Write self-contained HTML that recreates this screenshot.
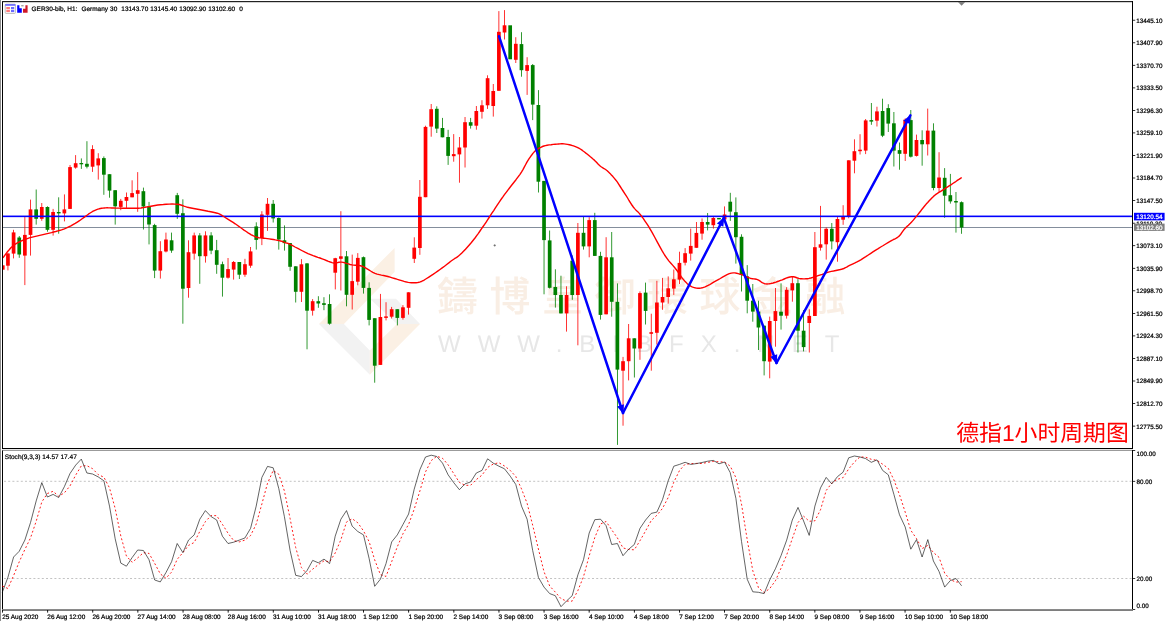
<!DOCTYPE html>
<html lang="en"><head><meta charset="utf-8"><title>GER30-bib H1</title>
<style>
html,body{margin:0;padding:0;background:#fff;}
body{width:1170px;height:621px;overflow:hidden;position:relative;font-family:"Liberation Sans","Noto Sans CJK SC",sans-serif;}
svg{position:absolute;left:0;top:0;display:block;will-change:transform;}
text{text-rendering:geometricPrecision;}
.ax,.tx,.hd{stroke:#000;stroke-width:0.22px;}
.ax{font-family:"Liberation Sans",sans-serif;font-size:6.3px;fill:#000;}
.tx{font-family:"Liberation Sans",sans-serif;font-size:6.45px;fill:#000;}
.hd{font-family:"Liberation Sans",sans-serif;font-size:6.55px;fill:#000;}
.wm1{font-family:"Liberation Sans","Noto Sans CJK TC",sans-serif;font-weight:500;font-size:41px;fill:#f9eee4;letter-spacing:11.5px;}
.wm2{font-family:"Liberation Sans",sans-serif;font-size:24px;fill:#e7e7e7;letter-spacing:17px;}
.ttl{font-family:"Liberation Sans","Noto Sans CJK SC",sans-serif;font-size:22.85px;fill:#ff0000;}
</style></head><body>
<svg width="1170" height="621" viewBox="0 0 1170 621">

<rect x="0" y="0" width="1" height="621" fill="#8c8c8c"/>
<g id="logo">
<polygon points="394.6,247.9 394.6,272 343.9,324 319,324" fill="#fbf0e4"/>
<polygon points="319,324 343.9,324 369.8,350.6 369.8,374.8" fill="#f2f2f2"/>
<polygon points="369.8,374.8 369.8,350.6 397,324 420,324" fill="#fbf0e4"/>
<polygon points="369.8,298.7 396,298.7 420,324 397,324" fill="#f2f2f2"/>
</g>
<text class="wm1" x="437" y="311.1">鑄博皇御環球金融</text>
<text class="wm2" x="438" y="352">WWW.BIBFX.NET</text>
<rect x="3" y="227" width="1129" height="1" fill="#848e9c"/>
<g id="candles">
<rect x="3" y="265.3" width="1.6" height="4.4" fill="#ff0000"/>
<rect x="7.54" y="252.7" width="0.8" height="17.7" fill="#ff0000"/>
<rect x="6.09" y="253.5" width="3.7" height="12.2" fill="#ff0000"/>
<rect x="13.19" y="229.8" width="0.8" height="28.6" fill="#ff0000"/>
<rect x="11.74" y="232.4" width="3.7" height="21.2" fill="#ff0000"/>
<rect x="18.83" y="236.0" width="0.8" height="21.8" fill="#008000"/>
<rect x="17.38" y="237.5" width="3.7" height="17.0" fill="#008000"/>
<rect x="24.47" y="216.6" width="0.8" height="68.5" fill="#ff0000"/>
<rect x="23.02" y="234.9" width="3.7" height="20.7" fill="#ff0000"/>
<rect x="30.12" y="199.6" width="0.8" height="56.0" fill="#ff0000"/>
<rect x="28.66" y="209.4" width="3.7" height="25.5" fill="#ff0000"/>
<rect x="35.76" y="189.5" width="0.8" height="35.1" fill="#008000"/>
<rect x="34.31" y="209.4" width="3.7" height="9.4" fill="#008000"/>
<rect x="41.40" y="203.0" width="0.8" height="17.8" fill="#ff0000"/>
<rect x="39.95" y="207.0" width="3.7" height="11.8" fill="#ff0000"/>
<rect x="47.04" y="206.3" width="0.8" height="25.4" fill="#008000"/>
<rect x="45.59" y="207.0" width="3.7" height="22.8" fill="#008000"/>
<rect x="52.69" y="208.9" width="0.8" height="26.7" fill="#ff0000"/>
<rect x="51.24" y="212.0" width="3.7" height="17.8" fill="#ff0000"/>
<rect x="58.33" y="197.3" width="0.8" height="36.4" fill="#008000"/>
<rect x="56.88" y="212.0" width="3.7" height="1.4" fill="#008000"/>
<rect x="63.97" y="194.4" width="0.8" height="27.0" fill="#ff0000"/>
<rect x="62.52" y="209.4" width="3.7" height="4.0" fill="#ff0000"/>
<rect x="69.62" y="165.0" width="0.8" height="43.9" fill="#ff0000"/>
<rect x="68.17" y="167.1" width="3.7" height="41.8" fill="#ff0000"/>
<rect x="75.26" y="155.1" width="0.8" height="13.6" fill="#ff0000"/>
<rect x="73.81" y="163.2" width="3.7" height="4.4" fill="#ff0000"/>
<rect x="80.90" y="158.4" width="0.8" height="10.5" fill="#008000"/>
<rect x="79.45" y="163.0" width="3.7" height="1.3" fill="#008000"/>
<rect x="86.54" y="141.2" width="0.8" height="27.2" fill="#008000"/>
<rect x="85.09" y="163.8" width="3.7" height="2.9" fill="#008000"/>
<rect x="92.19" y="145.2" width="0.8" height="26.7" fill="#ff0000"/>
<rect x="90.74" y="149.1" width="3.7" height="17.6" fill="#ff0000"/>
<rect x="97.83" y="153.2" width="0.8" height="26.4" fill="#ff0000"/>
<rect x="96.38" y="158.4" width="3.7" height="7.0" fill="#ff0000"/>
<rect x="103.47" y="156.4" width="0.8" height="38.4" fill="#008000"/>
<rect x="102.02" y="158.1" width="3.7" height="16.6" fill="#008000"/>
<rect x="109.12" y="174.2" width="0.8" height="23.5" fill="#008000"/>
<rect x="107.67" y="174.2" width="3.7" height="16.4" fill="#008000"/>
<rect x="114.76" y="190.2" width="0.8" height="34.4" fill="#008000"/>
<rect x="113.31" y="190.2" width="3.7" height="16.1" fill="#008000"/>
<rect x="120.40" y="198.9" width="0.8" height="11.3" fill="#ff0000"/>
<rect x="118.95" y="200.8" width="3.7" height="6.1" fill="#ff0000"/>
<rect x="126.05" y="192.5" width="0.8" height="15.4" fill="#ff0000"/>
<rect x="124.60" y="197.0" width="3.7" height="3.8" fill="#ff0000"/>
<rect x="131.69" y="180.3" width="0.8" height="17.0" fill="#ff0000"/>
<rect x="130.24" y="193.1" width="3.7" height="4.2" fill="#ff0000"/>
<rect x="137.33" y="172.1" width="0.8" height="39.7" fill="#ff0000"/>
<rect x="135.88" y="190.2" width="3.7" height="3.6" fill="#ff0000"/>
<rect x="142.97" y="187.6" width="0.8" height="41.9" fill="#008000"/>
<rect x="141.53" y="191.2" width="3.7" height="15.3" fill="#008000"/>
<rect x="148.62" y="201.9" width="0.8" height="42.5" fill="#008000"/>
<rect x="147.17" y="206.4" width="3.7" height="18.1" fill="#008000"/>
<rect x="154.26" y="223.8" width="0.8" height="54.3" fill="#008000"/>
<rect x="152.81" y="225.1" width="3.7" height="45.5" fill="#008000"/>
<rect x="159.90" y="241.2" width="0.8" height="37.4" fill="#ff0000"/>
<rect x="158.45" y="251.2" width="3.7" height="19.4" fill="#ff0000"/>
<rect x="165.55" y="232.6" width="0.8" height="19.8" fill="#ff0000"/>
<rect x="164.10" y="239.5" width="3.7" height="12.0" fill="#ff0000"/>
<rect x="171.19" y="232.6" width="0.8" height="20.2" fill="#008000"/>
<rect x="169.74" y="240.3" width="3.7" height="10.3" fill="#008000"/>
<rect x="176.83" y="192.9" width="0.8" height="26.0" fill="#008000"/>
<rect x="175.38" y="195.2" width="3.7" height="18.6" fill="#008000"/>
<rect x="182.48" y="199.3" width="0.8" height="124.4" fill="#008000"/>
<rect x="181.03" y="213.2" width="3.7" height="75.5" fill="#008000"/>
<rect x="188.12" y="240.3" width="0.8" height="57.4" fill="#ff0000"/>
<rect x="186.67" y="252.2" width="3.7" height="35.8" fill="#ff0000"/>
<rect x="193.76" y="232.6" width="0.8" height="27.1" fill="#ff0000"/>
<rect x="192.31" y="235.4" width="3.7" height="18.2" fill="#ff0000"/>
<rect x="199.41" y="233.1" width="0.8" height="50.7" fill="#008000"/>
<rect x="197.96" y="235.4" width="3.7" height="20.8" fill="#008000"/>
<rect x="205.05" y="231.3" width="0.8" height="31.3" fill="#ff0000"/>
<rect x="203.60" y="235.4" width="3.7" height="20.8" fill="#ff0000"/>
<rect x="210.69" y="232.2" width="0.8" height="22.0" fill="#008000"/>
<rect x="209.24" y="235.4" width="3.7" height="15.2" fill="#008000"/>
<rect x="216.33" y="239.9" width="0.8" height="33.9" fill="#008000"/>
<rect x="214.88" y="250.2" width="3.7" height="14.6" fill="#008000"/>
<rect x="221.98" y="261.6" width="0.8" height="35.0" fill="#008000"/>
<rect x="220.53" y="264.2" width="3.7" height="13.5" fill="#008000"/>
<rect x="227.62" y="258.0" width="0.8" height="20.6" fill="#ff0000"/>
<rect x="226.17" y="269.1" width="3.7" height="8.6" fill="#ff0000"/>
<rect x="233.26" y="261.0" width="0.8" height="18.6" fill="#ff0000"/>
<rect x="231.81" y="262.0" width="3.7" height="7.6" fill="#ff0000"/>
<rect x="238.91" y="262.0" width="0.8" height="17.0" fill="#008000"/>
<rect x="237.46" y="262.0" width="3.7" height="12.7" fill="#008000"/>
<rect x="244.55" y="258.8" width="0.8" height="18.0" fill="#ff0000"/>
<rect x="243.10" y="264.2" width="3.7" height="10.5" fill="#ff0000"/>
<rect x="250.19" y="247.0" width="0.8" height="20.8" fill="#ff0000"/>
<rect x="248.74" y="251.4" width="3.7" height="14.3" fill="#ff0000"/>
<rect x="255.84" y="222.3" width="0.8" height="27.3" fill="#008000"/>
<rect x="254.39" y="226.4" width="3.7" height="13.5" fill="#008000"/>
<rect x="261.48" y="211.2" width="0.8" height="33.9" fill="#ff0000"/>
<rect x="260.03" y="214.5" width="3.7" height="23.5" fill="#ff0000"/>
<rect x="267.12" y="198.0" width="0.8" height="32.9" fill="#ff0000"/>
<rect x="265.67" y="203.8" width="3.7" height="11.0" fill="#ff0000"/>
<rect x="272.76" y="200.0" width="0.8" height="22.5" fill="#008000"/>
<rect x="271.31" y="203.8" width="3.7" height="14.6" fill="#008000"/>
<rect x="278.41" y="217.4" width="0.8" height="32.2" fill="#008000"/>
<rect x="276.96" y="218.0" width="3.7" height="21.5" fill="#008000"/>
<rect x="284.05" y="225.4" width="0.8" height="25.2" fill="#008000"/>
<rect x="282.60" y="240.3" width="3.7" height="2.8" fill="#008000"/>
<rect x="289.69" y="243.1" width="0.8" height="27.7" fill="#008000"/>
<rect x="288.24" y="243.1" width="3.7" height="23.7" fill="#008000"/>
<rect x="295.34" y="266.3" width="0.8" height="36.2" fill="#008000"/>
<rect x="293.89" y="266.3" width="3.7" height="25.5" fill="#008000"/>
<rect x="300.98" y="259.1" width="0.8" height="42.9" fill="#ff0000"/>
<rect x="299.53" y="264.3" width="3.7" height="27.5" fill="#ff0000"/>
<rect x="306.62" y="263.0" width="0.8" height="86.3" fill="#008000"/>
<rect x="305.17" y="263.4" width="3.7" height="47.3" fill="#008000"/>
<rect x="312.27" y="299.1" width="0.8" height="16.5" fill="#ff0000"/>
<rect x="310.81" y="301.2" width="3.7" height="9.5" fill="#ff0000"/>
<rect x="317.91" y="296.2" width="0.8" height="11.6" fill="#008000"/>
<rect x="316.46" y="301.2" width="3.7" height="2.3" fill="#008000"/>
<rect x="323.55" y="297.2" width="0.8" height="13.0" fill="#008000"/>
<rect x="322.10" y="303.2" width="3.7" height="1.7" fill="#008000"/>
<rect x="329.19" y="294.3" width="0.8" height="30.4" fill="#008000"/>
<rect x="327.74" y="304.0" width="3.7" height="19.7" fill="#008000"/>
<rect x="334.84" y="257.8" width="0.8" height="31.6" fill="#ff0000"/>
<rect x="333.39" y="258.2" width="3.7" height="14.5" fill="#ff0000"/>
<rect x="340.48" y="211.2" width="0.8" height="79.3" fill="#ff0000"/>
<rect x="339.03" y="256.3" width="3.7" height="2.5" fill="#ff0000"/>
<rect x="346.12" y="251.0" width="0.8" height="55.3" fill="#008000"/>
<rect x="344.67" y="256.3" width="3.7" height="38.5" fill="#008000"/>
<rect x="351.77" y="254.6" width="0.8" height="54.9" fill="#ff0000"/>
<rect x="350.32" y="281.1" width="3.7" height="13.7" fill="#ff0000"/>
<rect x="357.41" y="253.1" width="0.8" height="32.2" fill="#ff0000"/>
<rect x="355.96" y="257.9" width="3.7" height="23.8" fill="#ff0000"/>
<rect x="363.05" y="256.5" width="0.8" height="37.1" fill="#008000"/>
<rect x="361.60" y="257.2" width="3.7" height="30.7" fill="#008000"/>
<rect x="368.69" y="282.3" width="0.8" height="43.1" fill="#008000"/>
<rect x="367.24" y="287.9" width="3.7" height="32.0" fill="#008000"/>
<rect x="374.34" y="318.2" width="0.8" height="64.5" fill="#008000"/>
<rect x="372.89" y="318.2" width="3.7" height="47.5" fill="#008000"/>
<rect x="379.98" y="293.9" width="0.8" height="71.0" fill="#ff0000"/>
<rect x="378.53" y="317.0" width="3.7" height="47.9" fill="#ff0000"/>
<rect x="385.62" y="302.2" width="0.8" height="18.2" fill="#ff0000"/>
<rect x="384.17" y="316.4" width="3.7" height="1.5" fill="#ff0000"/>
<rect x="391.27" y="306.9" width="0.8" height="11.6" fill="#ff0000"/>
<rect x="389.82" y="309.2" width="3.7" height="7.5" fill="#ff0000"/>
<rect x="396.91" y="309.2" width="0.8" height="16.2" fill="#008000"/>
<rect x="395.46" y="309.2" width="3.7" height="8.7" fill="#008000"/>
<rect x="402.55" y="305.1" width="0.8" height="14.5" fill="#ff0000"/>
<rect x="401.10" y="307.3" width="3.7" height="10.6" fill="#ff0000"/>
<rect x="408.20" y="292.3" width="0.8" height="22.3" fill="#ff0000"/>
<rect x="406.75" y="292.3" width="3.7" height="15.5" fill="#ff0000"/>
<rect x="413.84" y="237.3" width="0.8" height="25.7" fill="#ff0000"/>
<rect x="412.39" y="247.6" width="3.7" height="11.2" fill="#ff0000"/>
<rect x="419.48" y="180.0" width="0.8" height="74.8" fill="#ff0000"/>
<rect x="418.03" y="196.8" width="3.7" height="51.2" fill="#ff0000"/>
<rect x="425.12" y="125.7" width="0.8" height="71.5" fill="#ff0000"/>
<rect x="423.67" y="126.9" width="3.7" height="70.3" fill="#ff0000"/>
<rect x="430.77" y="104.0" width="0.8" height="32.7" fill="#ff0000"/>
<rect x="429.32" y="109.2" width="3.7" height="17.4" fill="#ff0000"/>
<rect x="436.41" y="106.3" width="0.8" height="26.7" fill="#008000"/>
<rect x="434.96" y="108.8" width="3.7" height="19.8" fill="#008000"/>
<rect x="442.05" y="117.9" width="0.8" height="19.4" fill="#008000"/>
<rect x="440.60" y="128.0" width="3.7" height="9.3" fill="#008000"/>
<rect x="447.70" y="129.8" width="0.8" height="35.1" fill="#008000"/>
<rect x="446.25" y="137.0" width="3.7" height="18.9" fill="#008000"/>
<rect x="453.34" y="134.1" width="0.8" height="27.6" fill="#ff0000"/>
<rect x="451.89" y="154.1" width="3.7" height="2.1" fill="#ff0000"/>
<rect x="458.98" y="137.0" width="0.8" height="45.7" fill="#ff0000"/>
<rect x="457.53" y="147.5" width="3.7" height="6.9" fill="#ff0000"/>
<rect x="464.63" y="117.0" width="0.8" height="50.5" fill="#ff0000"/>
<rect x="463.18" y="122.2" width="3.7" height="25.3" fill="#ff0000"/>
<rect x="470.27" y="117.9" width="0.8" height="10.7" fill="#008000"/>
<rect x="468.82" y="122.2" width="3.7" height="3.5" fill="#008000"/>
<rect x="475.91" y="106.0" width="0.8" height="23.7" fill="#ff0000"/>
<rect x="474.46" y="111.0" width="3.7" height="14.7" fill="#ff0000"/>
<rect x="481.56" y="100.2" width="0.8" height="18.4" fill="#ff0000"/>
<rect x="480.10" y="105.3" width="3.7" height="6.5" fill="#ff0000"/>
<rect x="487.20" y="75.3" width="0.8" height="33.6" fill="#ff0000"/>
<rect x="485.75" y="78.2" width="3.7" height="27.1" fill="#ff0000"/>
<rect x="492.84" y="84.0" width="0.8" height="32.6" fill="#ff0000"/>
<rect x="491.39" y="91.0" width="3.7" height="15.0" fill="#ff0000"/>
<rect x="498.48" y="11.1" width="0.8" height="79.7" fill="#ff0000"/>
<rect x="497.03" y="31.8" width="3.7" height="59.0" fill="#ff0000"/>
<rect x="504.13" y="10.1" width="0.8" height="29.4" fill="#ff0000"/>
<rect x="502.68" y="25.3" width="3.7" height="7.2" fill="#ff0000"/>
<rect x="508.32" y="25.3" width="3.7" height="34.0" fill="#008000"/>
<rect x="515.41" y="37.2" width="0.8" height="25.8" fill="#ff0000"/>
<rect x="513.96" y="43.8" width="3.7" height="16.0" fill="#ff0000"/>
<rect x="521.06" y="32.2" width="0.8" height="44.5" fill="#008000"/>
<rect x="519.61" y="44.1" width="3.7" height="26.1" fill="#008000"/>
<rect x="526.70" y="57.2" width="0.8" height="37.7" fill="#ff0000"/>
<rect x="525.25" y="65.1" width="3.7" height="5.8" fill="#ff0000"/>
<rect x="532.34" y="64.0" width="0.8" height="56.1" fill="#008000"/>
<rect x="530.89" y="65.1" width="3.7" height="39.5" fill="#008000"/>
<rect x="537.99" y="90.1" width="0.8" height="102.4" fill="#008000"/>
<rect x="536.53" y="105.0" width="3.7" height="76.7" fill="#008000"/>
<rect x="543.63" y="180.9" width="0.8" height="113.4" fill="#008000"/>
<rect x="542.18" y="180.9" width="3.7" height="59.2" fill="#008000"/>
<rect x="549.27" y="230.5" width="0.8" height="58.0" fill="#008000"/>
<rect x="547.82" y="240.4" width="3.7" height="47.4" fill="#008000"/>
<rect x="554.91" y="269.3" width="0.8" height="38.3" fill="#008000"/>
<rect x="553.46" y="287.0" width="3.7" height="8.0" fill="#008000"/>
<rect x="560.56" y="275.7" width="0.8" height="37.7" fill="#008000"/>
<rect x="559.11" y="295.0" width="3.7" height="18.4" fill="#008000"/>
<rect x="566.20" y="286.3" width="0.8" height="45.3" fill="#ff0000"/>
<rect x="564.75" y="295.0" width="3.7" height="18.4" fill="#ff0000"/>
<rect x="571.84" y="255.4" width="0.8" height="44.4" fill="#008000"/>
<rect x="570.39" y="260.7" width="3.7" height="34.3" fill="#008000"/>
<rect x="577.49" y="223.0" width="0.8" height="122.3" fill="#ff0000"/>
<rect x="576.04" y="232.8" width="3.7" height="62.2" fill="#ff0000"/>
<rect x="583.13" y="216.9" width="0.8" height="32.7" fill="#008000"/>
<rect x="581.68" y="232.8" width="3.7" height="13.6" fill="#008000"/>
<rect x="588.77" y="217.2" width="0.8" height="40.1" fill="#ff0000"/>
<rect x="587.32" y="220.1" width="3.7" height="26.3" fill="#ff0000"/>
<rect x="594.41" y="212.8" width="0.8" height="43.1" fill="#008000"/>
<rect x="592.96" y="220.1" width="3.7" height="35.8" fill="#008000"/>
<rect x="600.06" y="251.8" width="0.8" height="67.8" fill="#008000"/>
<rect x="598.61" y="255.9" width="3.7" height="59.0" fill="#008000"/>
<rect x="605.70" y="237.2" width="0.8" height="77.1" fill="#ff0000"/>
<rect x="604.25" y="257.3" width="3.7" height="57.0" fill="#ff0000"/>
<rect x="611.34" y="232.0" width="0.8" height="84.7" fill="#008000"/>
<rect x="609.89" y="257.3" width="3.7" height="44.5" fill="#008000"/>
<rect x="616.99" y="283.4" width="0.8" height="161.5" fill="#008000"/>
<rect x="615.54" y="301.8" width="3.7" height="67.8" fill="#008000"/>
<rect x="622.63" y="356.9" width="0.8" height="68.8" fill="#ff0000"/>
<rect x="621.18" y="361.2" width="3.7" height="9.5" fill="#ff0000"/>
<rect x="628.27" y="324.0" width="0.8" height="56.4" fill="#ff0000"/>
<rect x="626.82" y="338.3" width="3.7" height="22.9" fill="#ff0000"/>
<rect x="633.92" y="338.3" width="0.8" height="39.2" fill="#008000"/>
<rect x="632.47" y="338.3" width="3.7" height="10.2" fill="#008000"/>
<rect x="639.56" y="291.4" width="0.8" height="68.4" fill="#ff0000"/>
<rect x="638.11" y="293.1" width="3.7" height="55.4" fill="#ff0000"/>
<rect x="645.20" y="282.6" width="0.8" height="41.9" fill="#008000"/>
<rect x="643.75" y="292.6" width="3.7" height="18.3" fill="#008000"/>
<rect x="650.84" y="313.7" width="0.8" height="57.0" fill="#ff0000"/>
<rect x="649.39" y="332.2" width="3.7" height="1.6" fill="#ff0000"/>
<rect x="656.49" y="280.8" width="0.8" height="63.8" fill="#ff0000"/>
<rect x="655.04" y="302.5" width="3.7" height="30.3" fill="#ff0000"/>
<rect x="662.13" y="277.9" width="0.8" height="31.9" fill="#ff0000"/>
<rect x="660.68" y="297.0" width="3.7" height="5.5" fill="#ff0000"/>
<rect x="667.77" y="276.4" width="0.8" height="27.2" fill="#ff0000"/>
<rect x="666.32" y="288.3" width="3.7" height="8.7" fill="#ff0000"/>
<rect x="673.42" y="269.5" width="0.8" height="25.4" fill="#ff0000"/>
<rect x="671.97" y="279.3" width="3.7" height="9.3" fill="#ff0000"/>
<rect x="679.06" y="251.7" width="0.8" height="32.3" fill="#ff0000"/>
<rect x="677.61" y="262.9" width="3.7" height="16.7" fill="#ff0000"/>
<rect x="684.70" y="248.1" width="0.8" height="17.3" fill="#ff0000"/>
<rect x="683.25" y="253.2" width="3.7" height="9.5" fill="#ff0000"/>
<rect x="690.35" y="228.6" width="0.8" height="32.0" fill="#ff0000"/>
<rect x="688.90" y="245.9" width="3.7" height="7.7" fill="#ff0000"/>
<rect x="695.99" y="222.0" width="0.8" height="25.8" fill="#ff0000"/>
<rect x="694.54" y="232.9" width="3.7" height="14.9" fill="#ff0000"/>
<rect x="701.63" y="218.4" width="0.8" height="21.3" fill="#ff0000"/>
<rect x="700.18" y="222.0" width="3.7" height="11.6" fill="#ff0000"/>
<rect x="707.27" y="213.0" width="0.8" height="17.4" fill="#008000"/>
<rect x="705.82" y="222.0" width="3.7" height="2.6" fill="#008000"/>
<rect x="712.92" y="217.0" width="0.8" height="11.6" fill="#ff0000"/>
<rect x="711.47" y="218.0" width="3.7" height="7.2" fill="#ff0000"/>
<rect x="717.11" y="218.0" width="3.7" height="1.4" fill="#008000"/>
<rect x="724.20" y="206.4" width="0.8" height="13.0" fill="#ff0000"/>
<rect x="722.75" y="214.5" width="3.7" height="4.9" fill="#ff0000"/>
<rect x="729.85" y="192.8" width="0.8" height="28.1" fill="#008000"/>
<rect x="728.40" y="201.7" width="3.7" height="9.9" fill="#008000"/>
<rect x="735.49" y="197.4" width="0.8" height="66.2" fill="#008000"/>
<rect x="734.04" y="212.2" width="3.7" height="25.0" fill="#008000"/>
<rect x="741.13" y="234.3" width="0.8" height="57.2" fill="#008000"/>
<rect x="739.68" y="236.8" width="3.7" height="38.2" fill="#008000"/>
<rect x="746.78" y="265.1" width="0.8" height="48.2" fill="#008000"/>
<rect x="745.33" y="276.4" width="3.7" height="24.3" fill="#008000"/>
<rect x="752.42" y="284.0" width="0.8" height="37.7" fill="#008000"/>
<rect x="750.97" y="300.7" width="3.7" height="10.9" fill="#008000"/>
<rect x="758.06" y="300.7" width="0.8" height="49.3" fill="#008000"/>
<rect x="756.61" y="311.5" width="3.7" height="16.0" fill="#008000"/>
<rect x="763.70" y="325.7" width="0.8" height="49.7" fill="#008000"/>
<rect x="762.25" y="325.7" width="3.7" height="35.5" fill="#008000"/>
<rect x="769.35" y="316.6" width="0.8" height="61.7" fill="#ff0000"/>
<rect x="767.90" y="321.0" width="3.7" height="40.6" fill="#ff0000"/>
<rect x="774.99" y="288.0" width="0.8" height="58.7" fill="#ff0000"/>
<rect x="773.54" y="311.1" width="3.7" height="9.9" fill="#ff0000"/>
<rect x="780.63" y="283.3" width="0.8" height="46.3" fill="#008000"/>
<rect x="779.18" y="311.7" width="3.7" height="4.0" fill="#008000"/>
<rect x="786.28" y="287.2" width="0.8" height="31.4" fill="#ff0000"/>
<rect x="784.83" y="289.8" width="3.7" height="25.9" fill="#ff0000"/>
<rect x="791.92" y="276.8" width="0.8" height="24.9" fill="#ff0000"/>
<rect x="790.47" y="283.2" width="3.7" height="7.2" fill="#ff0000"/>
<rect x="797.56" y="279.1" width="0.8" height="73.4" fill="#008000"/>
<rect x="796.11" y="283.2" width="3.7" height="47.5" fill="#008000"/>
<rect x="803.21" y="310.1" width="0.8" height="41.3" fill="#008000"/>
<rect x="801.76" y="330.7" width="3.7" height="16.4" fill="#008000"/>
<rect x="808.85" y="309.3" width="0.8" height="43.2" fill="#ff0000"/>
<rect x="807.40" y="315.9" width="3.7" height="7.1" fill="#ff0000"/>
<rect x="814.49" y="232.0" width="0.8" height="84.0" fill="#ff0000"/>
<rect x="813.04" y="247.2" width="3.7" height="68.8" fill="#ff0000"/>
<rect x="820.13" y="205.9" width="0.8" height="44.7" fill="#ff0000"/>
<rect x="818.68" y="244.3" width="3.7" height="3.4" fill="#ff0000"/>
<rect x="825.78" y="227.4" width="0.8" height="32.2" fill="#ff0000"/>
<rect x="824.33" y="228.8" width="3.7" height="15.5" fill="#ff0000"/>
<rect x="831.42" y="223.0" width="0.8" height="26.4" fill="#008000"/>
<rect x="829.97" y="228.8" width="3.7" height="12.6" fill="#008000"/>
<rect x="837.06" y="216.8" width="0.8" height="44.9" fill="#ff0000"/>
<rect x="835.61" y="219.0" width="3.7" height="23.2" fill="#ff0000"/>
<rect x="842.71" y="205.2" width="0.8" height="19.6" fill="#ff0000"/>
<rect x="841.26" y="216.8" width="3.7" height="2.9" fill="#ff0000"/>
<rect x="848.35" y="160.3" width="0.8" height="58.0" fill="#ff0000"/>
<rect x="846.90" y="160.3" width="3.7" height="55.8" fill="#ff0000"/>
<rect x="853.99" y="139.3" width="0.8" height="34.0" fill="#ff0000"/>
<rect x="852.54" y="151.2" width="3.7" height="9.5" fill="#ff0000"/>
<rect x="859.64" y="134.2" width="0.8" height="20.3" fill="#ff0000"/>
<rect x="858.19" y="149.7" width="3.7" height="1.5" fill="#ff0000"/>
<rect x="865.28" y="119.0" width="0.8" height="35.1" fill="#ff0000"/>
<rect x="863.83" y="120.4" width="3.7" height="30.2" fill="#ff0000"/>
<rect x="870.92" y="103.0" width="0.8" height="21.8" fill="#008000"/>
<rect x="869.47" y="120.1" width="3.7" height="1.5" fill="#008000"/>
<rect x="876.56" y="106.7" width="0.8" height="19.8" fill="#ff0000"/>
<rect x="875.11" y="111.4" width="3.7" height="9.3" fill="#ff0000"/>
<rect x="882.21" y="98.7" width="0.8" height="38.4" fill="#008000"/>
<rect x="880.76" y="111.0" width="3.7" height="24.7" fill="#008000"/>
<rect x="887.85" y="104.2" width="0.8" height="27.8" fill="#008000"/>
<rect x="886.40" y="108.1" width="3.7" height="15.5" fill="#008000"/>
<rect x="893.49" y="112.0" width="0.8" height="54.5" fill="#008000"/>
<rect x="892.04" y="123.3" width="3.7" height="27.3" fill="#008000"/>
<rect x="899.14" y="142.5" width="0.8" height="27.2" fill="#008000"/>
<rect x="897.69" y="150.1" width="3.7" height="3.7" fill="#008000"/>
<rect x="904.78" y="118.3" width="0.8" height="42.7" fill="#ff0000"/>
<rect x="903.33" y="119.7" width="3.7" height="34.1" fill="#ff0000"/>
<rect x="910.42" y="110.0" width="0.8" height="47.5" fill="#008000"/>
<rect x="908.97" y="120.1" width="3.7" height="36.6" fill="#008000"/>
<rect x="916.07" y="134.6" width="0.8" height="21.9" fill="#ff0000"/>
<rect x="914.62" y="140.0" width="3.7" height="15.9" fill="#ff0000"/>
<rect x="921.71" y="130.3" width="0.8" height="35.4" fill="#008000"/>
<rect x="920.26" y="140.0" width="3.7" height="4.3" fill="#008000"/>
<rect x="927.35" y="108.6" width="0.8" height="46.9" fill="#ff0000"/>
<rect x="925.90" y="130.6" width="3.7" height="13.7" fill="#ff0000"/>
<rect x="932.99" y="123.3" width="0.8" height="67.0" fill="#008000"/>
<rect x="931.54" y="130.6" width="3.7" height="57.4" fill="#008000"/>
<rect x="938.64" y="152.2" width="0.8" height="39.8" fill="#ff0000"/>
<rect x="937.19" y="177.5" width="3.7" height="10.5" fill="#ff0000"/>
<rect x="944.28" y="168.1" width="0.8" height="49.7" fill="#008000"/>
<rect x="942.83" y="177.8" width="3.7" height="17.9" fill="#008000"/>
<rect x="949.92" y="173.9" width="0.8" height="29.7" fill="#008000"/>
<rect x="948.47" y="195.2" width="3.7" height="6.2" fill="#008000"/>
<rect x="955.57" y="192.0" width="0.8" height="40.6" fill="#008000"/>
<rect x="954.12" y="201.0" width="3.7" height="1.5" fill="#008000"/>
<rect x="961.21" y="201.4" width="0.8" height="32.4" fill="#008000"/>
<rect x="959.76" y="202.2" width="3.7" height="25.3" fill="#008000"/>
</g>
<rect x="3" y="215.55" width="1129" height="1.6" fill="#0000ff"/>
<polyline points="2.8,257.9 3.9,256.5 5.3,254.6 7.0,252.3 9.0,250.0 10.9,247.7 12.9,245.9 14.9,244.4 17.0,243.1 19.2,242.0 21.4,240.9 23.6,240.0 25.8,239.1 28.0,238.3 30.1,237.7 32.3,237.1 34.4,236.6 36.6,236.1 38.7,235.6 40.8,235.1 43.0,234.6 45.1,234.1 47.2,233.6 49.4,233.1 51.5,232.6 53.6,232.0 55.8,231.5 57.9,230.9 60.1,230.3 62.2,229.6 64.4,228.8 66.6,227.9 68.7,226.9 70.9,225.8 73.0,224.6 75.2,223.4 77.3,222.1 79.5,220.7 81.8,219.0 84.1,217.4 86.3,215.7 88.4,214.2 90.2,213.0 91.8,212.0 93.1,211.2 94.4,210.6 95.5,210.1 96.7,209.6 97.9,209.2 99.2,208.8 100.4,208.5 101.6,208.3 102.9,208.1 104.3,208.0 105.7,207.9 107.2,207.8 108.6,207.9 110.0,207.9 111.7,208.0 113.7,208.0 116.0,208.1 119.0,208.1 122.6,208.2 126.4,208.3 130.3,208.3 133.8,208.3 136.6,208.3 138.6,208.2 140.0,208.1 141.1,208.0 142.1,207.8 143.3,207.6 145.0,207.3 147.2,206.9 149.6,206.5 152.2,206.0 155.0,205.5 157.8,205.0 160.5,204.7 163.3,204.5 166.2,204.2 169.2,204.1 172.1,204.0 174.8,204.1 177.2,204.2 179.2,204.5 180.9,205.0 182.4,205.5 183.9,206.1 185.6,206.7 187.5,207.3 189.8,207.8 192.3,208.3 195.0,208.8 197.7,209.3 200.4,209.8 203.0,210.3 205.5,210.8 208.1,211.3 210.7,211.7 213.1,212.2 215.3,212.7 217.2,213.2 218.7,213.7 219.7,214.1 220.6,214.6 221.4,215.1 222.3,215.7 223.6,216.5 225.2,217.5 227.0,218.6 229.0,219.8 231.0,221.1 233.1,222.4 235.2,223.8 237.3,225.3 239.5,226.8 241.8,228.5 244.0,230.1 246.2,231.5 248.1,232.8 249.8,233.8 251.3,234.8 252.8,235.5 254.1,236.2 255.6,236.8 257.1,237.3 258.7,237.7 260.4,237.9 262.1,238.1 263.8,238.2 265.6,238.4 267.4,238.6 269.3,238.9 271.3,239.2 273.4,239.5 275.4,239.9 277.3,240.2 279.0,240.6 280.6,241.0 282.1,241.4 283.4,241.9 284.7,242.3 285.8,242.8 286.8,243.1 287.4,243.3 287.7,243.3 287.8,243.3 288.0,243.3 288.7,243.6 290.0,244.3 292.2,245.4 295.0,247.0 298.3,248.7 301.7,250.5 305.0,252.2 308.0,253.6 310.6,254.7 313.1,255.7 315.5,256.5 317.8,257.3 320.0,258.0 322.2,258.8 324.3,259.6 326.4,260.5 328.4,261.3 330.3,262.0 332.1,262.6 333.8,263.0 335.3,263.1 336.6,262.9 337.7,262.6 338.9,262.3 340.1,262.1 341.5,262.1 343.1,262.4 344.8,262.8 346.5,263.4 348.3,263.9 350.1,264.5 351.9,264.9 353.6,265.1 355.2,265.2 356.9,265.3 358.6,265.4 360.3,265.7 362.2,266.2 364.2,267.1 366.3,268.3 368.4,269.6 370.6,271.0 372.8,272.3 375.0,273.3 377.1,274.1 379.3,274.6 381.4,275.1 383.6,275.5 385.7,276.0 387.9,276.5 390.1,277.1 392.3,277.8 394.6,278.5 396.8,279.2 398.9,279.8 400.8,280.4 402.5,280.9 404.1,281.4 405.5,281.8 406.9,282.1 408.3,282.4 409.8,282.6 411.3,282.7 412.9,282.8 414.4,282.8 416.0,282.8 417.5,282.6 418.9,282.3 420.2,281.9 421.4,281.5 422.5,280.9 423.7,280.3 425.0,279.5 426.6,278.5 428.5,277.3 430.7,275.9 433.0,274.4 435.4,272.7 437.7,271.1 440.0,269.5 442.2,267.9 444.5,266.2 446.7,264.5 448.8,262.9 450.8,261.3 452.6,260.0 454.1,259.0 455.3,258.2 456.3,257.6 457.4,256.9 458.5,256.0 459.9,254.8 461.6,253.2 463.5,251.3 465.5,249.2 467.5,247.0 469.5,244.7 471.4,242.5 473.2,240.3 475.0,238.0 476.7,235.6 478.4,233.3 480.0,231.0 481.6,228.7 483.1,226.5 484.6,224.4 486.0,222.3 487.4,220.2 488.8,218.0 490.3,215.7 491.9,213.2 493.7,210.6 495.4,207.9 497.2,205.2 498.9,202.7 500.4,200.4 501.7,198.5 502.9,196.9 503.9,195.4 505.0,193.9 506.2,192.3 507.7,190.3 509.5,188.0 511.6,185.3 513.8,182.5 516.0,179.7 518.1,176.9 520.0,174.3 521.6,171.8 523.1,169.3 524.4,166.9 525.7,164.5 526.8,162.4 528.0,160.4 529.1,158.7 530.2,157.1 531.1,155.8 532.1,154.5 532.9,153.4 533.8,152.4 534.6,151.5 535.2,150.9 535.9,150.3 536.5,149.8 537.2,149.3 538.1,148.8 539.1,148.2 540.2,147.6 541.3,147.1 542.5,146.5 543.9,146.0 545.4,145.6 547.1,145.2 549.1,144.9 551.1,144.7 553.2,144.4 555.2,144.2 557.0,144.1 558.6,144.0 560.0,143.9 561.4,143.8 562.7,143.8 564.1,143.9 565.7,144.1 567.5,144.4 569.4,144.8 571.5,145.3 573.5,145.9 575.4,146.6 577.2,147.3 578.8,148.1 580.3,149.0 581.7,149.9 583.1,151.0 584.5,152.0 585.9,153.1 587.4,154.2 588.9,155.5 590.4,156.8 591.9,158.0 593.3,159.3 594.6,160.4 595.7,161.5 596.7,162.5 597.6,163.5 598.5,164.4 599.4,165.3 600.4,166.2 601.5,167.0 602.5,167.6 603.6,168.3 604.8,169.0 605.9,169.8 607.2,170.8 608.5,172.0 610.0,173.4 611.4,175.0 612.9,176.6 614.4,178.4 615.9,180.2 617.4,182.2 618.8,184.3 620.2,186.5 621.7,188.8 623.1,191.0 624.6,193.3 626.1,195.6 627.6,198.0 629.0,200.5 630.5,202.8 631.9,205.0 633.3,207.0 634.6,208.6 635.8,209.9 636.9,211.0 638.1,212.1 639.3,213.4 640.6,215.0 642.0,216.8 643.4,218.7 644.8,220.8 646.4,223.1 648.1,225.7 650.0,228.8 652.2,232.6 654.6,237.0 657.2,241.9 659.8,246.7 662.3,251.2 664.6,255.0 666.8,258.1 668.8,260.9 670.9,263.3 672.8,265.4 674.6,267.5 676.2,269.5 677.7,271.5 679.0,273.3 680.1,275.0 681.2,276.7 682.3,278.2 683.5,279.6 684.7,281.0 685.9,282.2 687.0,283.4 688.2,284.5 689.4,285.4 690.7,286.2 692.1,286.9 693.5,287.4 695.0,287.8 696.4,288.1 697.9,288.3 699.4,288.3 700.8,288.1 702.2,287.8 703.7,287.3 705.1,286.8 706.6,286.1 708.1,285.4 709.7,284.6 711.3,283.7 712.9,282.7 714.6,281.7 716.4,280.6 718.3,279.6 720.3,278.5 722.5,277.2 724.8,275.9 727.1,274.7 729.3,273.7 731.3,273.1 733.2,272.9 734.9,272.9 736.6,273.2 738.2,273.6 739.8,274.1 741.4,274.6 742.9,275.1 744.5,275.7 745.9,276.4 747.4,277.1 748.7,277.7 750.1,278.2 751.4,278.5 752.6,278.7 753.8,278.9 755.0,279.0 756.2,279.2 757.4,279.6 758.6,280.2 759.8,280.9 761.0,281.8 762.2,282.6 763.4,283.2 764.6,283.7 765.8,283.9 767.0,284.0 768.2,283.9 769.4,283.8 770.6,283.6 771.9,283.3 773.2,283.0 774.6,282.5 776.0,282.1 777.5,281.5 779.0,281.0 780.6,280.4 782.3,279.8 784.2,279.0 786.1,278.2 788.0,277.5 789.9,277.0 791.6,276.7 793.2,276.7 794.7,277.0 796.1,277.5 797.5,278.0 798.9,278.4 800.3,278.7 801.7,278.8 803.1,278.9 804.5,278.9 805.9,278.8 807.4,278.7 809.0,278.4 810.8,278.0 812.8,277.4 814.8,276.8 816.8,276.1 818.8,275.4 820.6,274.8 822.2,274.3 823.6,273.8 824.9,273.3 826.2,272.8 827.6,272.4 829.3,271.9 831.3,271.4 833.5,271.0 835.9,270.5 838.2,270.0 840.4,269.5 842.3,269.0 843.8,268.5 845.0,267.9 846.0,267.4 847.1,266.8 848.2,266.1 849.6,265.4 851.3,264.6 853.0,263.8 855.0,262.9 857.0,261.9 859.0,260.8 861.2,259.6 863.4,258.2 865.8,256.7 868.3,255.0 870.8,253.3 873.3,251.7 875.7,250.1 878.2,248.6 880.7,247.0 883.3,245.5 885.7,244.0 888.0,242.6 890.1,241.4 891.9,240.4 893.5,239.5 895.0,238.8 896.3,238.1 897.6,237.3 898.8,236.4 899.9,235.3 900.9,234.0 901.8,232.7 902.7,231.4 903.6,230.2 904.5,229.0 905.5,228.0 906.4,227.0 907.4,226.1 908.4,225.3 909.4,224.3 910.4,223.3 911.4,222.2 912.4,221.1 913.5,219.9 914.5,218.6 915.6,217.3 916.8,215.9 918.0,214.4 919.3,212.7 920.7,211.0 922.0,209.2 923.4,207.5 924.8,205.8 926.2,204.1 927.7,202.5 929.2,200.8 930.7,199.2 932.1,197.7 933.5,196.4 934.8,195.3 935.9,194.4 937.0,193.7 938.1,192.9 939.3,192.2 940.7,191.3 942.2,190.3 943.9,189.3 945.6,188.2 947.3,187.1 949.1,185.9 950.9,184.8 952.8,183.5 954.9,182.2 956.9,180.7 958.9,179.4 960.5,178.3 961.7,177.5" fill="none" stroke="#ff0000" stroke-width="1.4" stroke-linejoin="round"/>
<line x1="499" y1="36.2" x2="623" y2="413" stroke="#0000ff" stroke-width="2.5" stroke-linecap="round"/>
<polygon points="623.3,413.9 617.1,406.5 623.9,404.3" fill="#0000ff"/>
<line x1="623" y1="413" x2="723.8" y2="218" stroke="#0000ff" stroke-width="2.5" stroke-linecap="round"/>
<polygon points="724.3,217.1 723.3,226.8 716.9,223.5" fill="#0000ff"/>
<line x1="723.8" y1="218" x2="776.5" y2="363" stroke="#0000ff" stroke-width="2.5" stroke-linecap="round"/>
<polygon points="776.8,363.9 770.4,356.7 777.2,354.3" fill="#0000ff"/>
<line x1="776.5" y1="363" x2="910.4" y2="115.4" stroke="#0000ff" stroke-width="2.5" stroke-linecap="round"/>
<polygon points="910.9,114.5 909.8,124.1 903.4,120.7" fill="#0000ff"/>
<path d="M493.5 245.4h2.4M494.7 244.2v2.4" stroke="#444" stroke-width="0.6"/>
<rect x="2" y="1" width="1" height="448" fill="#000"/>
<rect x="2" y="1" width="1131" height="1.2" fill="#222"/>
<rect x="1132" y="1" width="1" height="448" fill="#000"/>
<rect x="2" y="448" width="1131" height="1" fill="#000"/>
<rect x="2" y="449.85" width="1131" height="0.8" fill="#666"/>
<rect x="2" y="450.5" width="1" height="160" fill="#000"/>
<rect x="1132" y="450" width="1" height="160" fill="#000"/>
<rect x="2" y="609.1" width="1131" height="1.9" fill="#7e7e7e"/>
<polygon points="958,2 965.2,2 961.6,5.8" fill="#808080"/>
<rect x="1133" y="19.8" width="2.2" height="0.8" fill="#000"/>
<text class="ax" x="1136.2" y="22.6">13445.10</text>
<rect x="1133" y="42.4" width="2.2" height="0.8" fill="#000"/>
<text class="ax" x="1136.2" y="45.1">13407.90</text>
<rect x="1133" y="64.9" width="2.2" height="0.8" fill="#000"/>
<text class="ax" x="1136.2" y="67.7">13370.70</text>
<rect x="1133" y="87.5" width="2.2" height="0.8" fill="#000"/>
<text class="ax" x="1136.2" y="90.3">13333.50</text>
<rect x="1133" y="110.0" width="2.2" height="0.8" fill="#000"/>
<text class="ax" x="1136.2" y="112.8">13296.30</text>
<rect x="1133" y="132.5" width="2.2" height="0.8" fill="#000"/>
<text class="ax" x="1136.2" y="135.3">13259.10</text>
<rect x="1133" y="155.1" width="2.2" height="0.8" fill="#000"/>
<text class="ax" x="1136.2" y="157.9">13221.90</text>
<rect x="1133" y="177.6" width="2.2" height="0.8" fill="#000"/>
<text class="ax" x="1136.2" y="180.4">13184.70</text>
<rect x="1133" y="200.2" width="2.2" height="0.8" fill="#000"/>
<text class="ax" x="1136.2" y="203.0">13147.50</text>
<rect x="1133" y="222.8" width="2.2" height="0.8" fill="#000"/>
<text class="ax" x="1136.2" y="225.6">13110.30</text>
<rect x="1133" y="245.3" width="2.2" height="0.8" fill="#000"/>
<text class="ax" x="1136.2" y="248.1">13073.10</text>
<rect x="1133" y="267.9" width="2.2" height="0.8" fill="#000"/>
<text class="ax" x="1136.2" y="270.6">13035.90</text>
<rect x="1133" y="290.4" width="2.2" height="0.8" fill="#000"/>
<text class="ax" x="1136.2" y="293.2">12998.70</text>
<rect x="1133" y="313.0" width="2.2" height="0.8" fill="#000"/>
<text class="ax" x="1136.2" y="315.8">12961.50</text>
<rect x="1133" y="335.5" width="2.2" height="0.8" fill="#000"/>
<text class="ax" x="1136.2" y="338.3">12924.30</text>
<rect x="1133" y="358.1" width="2.2" height="0.8" fill="#000"/>
<text class="ax" x="1136.2" y="360.8">12887.10</text>
<rect x="1133" y="380.6" width="2.2" height="0.8" fill="#000"/>
<text class="ax" x="1136.2" y="383.4">12849.90</text>
<rect x="1133" y="403.2" width="2.2" height="0.8" fill="#000"/>
<text class="ax" x="1136.2" y="405.9">12812.70</text>
<rect x="1133" y="425.7" width="2.2" height="0.8" fill="#000"/>
<text class="ax" x="1136.2" y="428.5">12775.50</text>
<rect x="1134" y="212.8" width="30.6" height="7.6" fill="#0000ff"/>
<text class="ax" x="1136.2" y="219.1" fill="#fff" style="fill:#fff;stroke:#fff">13120.54</text>
<rect x="1134" y="223.6" width="30.6" height="7.3" fill="#808080"/>
<text class="ax" x="1136.2" y="229.8" style="fill:#fff;stroke:#fff">13102.60</text>
<line x1="4" y1="481.3" x2="1132" y2="481.3" stroke="#b4b4b4" stroke-width="0.8" stroke-dasharray="2,2.2"/>
<line x1="4" y1="578.5" x2="1132" y2="578.5" stroke="#b4b4b4" stroke-width="0.8" stroke-dasharray="2,2.2"/>
<rect x="1133" y="450.0" width="2.2" height="0.8" fill="#000"/>
<text class="ax" x="1136.6" y="456.3">100.00</text>
<rect x="1133" y="480.9" width="2.2" height="0.8" fill="#000"/>
<text class="ax" x="1136.6" y="483.9">80.00</text>
<rect x="1133" y="578.1" width="2.2" height="0.8" fill="#000"/>
<text class="ax" x="1136.6" y="581.0">20.00</text>
<rect x="1133" y="609.2" width="2.2" height="0.8" fill="#000"/>
<text class="ax" x="1136.6" y="608.3">0.00</text>
<polyline points="2.3,586.0 7.9,588.5 13.6,575.6 19.2,561.9 24.9,549.4 30.5,538.0 36.2,521.2 41.8,502.0 47.4,493.5 53.1,491.3 58.7,496.3 64.4,492.8 70.0,485.9 75.7,475.1 81.3,465.9 86.9,465.7 92.6,468.7 98.2,474.6 103.9,477.2 109.5,487.9 115.2,508.6 120.8,536.0 126.4,556.0 132.1,562.3 137.7,557.9 143.4,552.7 149.0,553.4 154.7,563.4 160.3,573.9 165.9,578.2 171.6,572.1 177.2,559.3 182.9,552.6 188.5,545.4 194.2,542.5 199.8,531.4 205.4,521.6 211.1,515.5 216.7,515.7 222.4,524.3 228.0,533.2 233.7,540.6 239.3,541.9 244.9,540.1 250.6,535.5 256.2,524.1 261.9,503.9 267.5,483.3 273.2,470.5 278.8,474.3 284.4,491.0 290.1,518.6 295.7,547.5 301.4,567.5 307.0,574.2 312.7,569.2 318.3,564.6 324.0,560.8 329.6,561.8 335.2,553.0 340.9,539.7 346.5,522.0 352.2,518.7 357.8,522.8 363.5,530.9 369.1,541.6 374.7,559.9 380.4,574.6 386.0,576.4 391.7,561.6 397.3,546.8 403.0,533.7 408.6,524.4 414.2,509.2 419.9,490.9 425.5,471.9 431.2,460.6 436.8,456.2 442.5,458.3 448.1,464.8 453.7,473.5 459.4,482.4 465.0,485.4 470.7,485.2 476.3,479.6 482.0,475.1 487.6,467.4 493.2,464.1 498.9,462.7 504.5,466.0 510.2,470.4 515.8,476.5 521.5,488.9 527.1,503.3 532.7,525.3 538.4,549.0 544.0,571.7 549.7,586.0 555.3,592.1 561.0,598.7 566.6,601.1 572.2,601.1 577.9,590.5 583.5,576.7 589.2,555.8 594.8,537.5 600.5,524.0 606.1,521.5 611.7,529.8 617.4,537.9 623.0,547.9 628.7,549.5 634.3,549.8 640.0,540.7 645.6,530.9 651.2,520.6 656.9,515.2 662.5,508.4 668.2,497.5 673.8,482.2 679.5,470.5 685.1,464.3 690.7,463.7 696.4,463.4 702.0,463.5 707.7,462.4 713.3,461.4 719.0,461.8 724.6,462.1 730.2,466.1 735.9,477.6 741.5,504.1 747.2,539.6 752.8,570.8 758.5,587.8 764.1,592.6 769.7,588.6 775.4,580.8 781.0,568.2 786.7,554.9 792.3,538.6 798.0,522.5 803.6,516.1 809.2,521.3 814.9,520.8 820.5,509.8 826.2,490.5 831.8,483.1 837.5,479.3 843.1,477.6 848.7,468.9 854.4,462.0 860.0,456.9 865.7,457.2 871.3,459.3 877.0,460.3 882.6,464.2 888.3,468.4 893.9,479.9 899.5,494.7 905.2,512.1 910.8,530.3 916.5,538.6 922.1,548.6 927.8,545.4 933.4,552.5 939.0,557.3 944.7,573.2 950.3,579.7 956.0,582.1 961.6,581.6" fill="none" stroke="#ff0000" stroke-width="0.9" stroke-dasharray="1.9,2.3"/>
<polyline points="2.3,592.3 7.9,577.4 13.6,557.0 19.2,551.3 24.9,540.0 30.5,522.6 36.2,500.9 41.8,482.6 47.4,497.0 53.1,494.4 58.7,497.5 64.4,486.6 70.0,473.5 75.7,465.1 81.3,459.1 86.9,473.0 92.6,474.0 98.2,476.9 103.9,480.8 109.5,506.1 115.2,538.8 120.8,563.1 126.4,566.2 132.1,557.6 137.7,550.0 143.4,550.5 149.0,559.7 154.7,580.0 160.3,581.9 165.9,572.7 171.6,561.7 177.2,543.5 182.9,552.6 188.5,540.1 194.2,534.9 199.8,519.2 205.4,510.6 211.1,516.6 216.7,520.0 222.4,536.2 228.0,543.5 233.7,542.2 239.3,540.1 244.9,538.0 250.6,528.3 256.2,506.1 261.9,477.4 267.5,466.4 273.2,467.8 278.8,488.6 284.4,516.6 290.1,550.5 295.7,575.3 301.4,576.6 307.0,570.6 312.7,560.4 318.3,562.8 324.0,559.1 329.6,563.6 335.2,536.2 340.9,519.2 346.5,510.6 352.2,526.2 357.8,531.5 363.5,534.9 369.1,558.4 374.7,586.3 380.4,579.2 386.0,563.6 391.7,541.9 397.3,534.9 403.0,524.4 408.6,514.0 414.2,489.2 419.9,469.6 425.5,457.0 431.2,455.2 436.8,456.5 442.5,463.1 448.1,474.8 453.7,482.6 459.4,489.7 465.0,483.9 470.7,481.9 476.3,473.0 482.0,470.4 487.6,458.8 493.2,463.1 498.9,466.2 504.5,468.8 510.2,476.1 515.8,484.5 521.5,506.1 527.1,519.2 532.7,550.5 538.4,577.4 544.0,587.1 549.7,593.6 555.3,595.7 561.0,606.7 566.6,600.9 572.2,595.7 577.9,574.8 583.5,559.7 589.2,533.0 594.8,519.7 600.5,519.2 606.1,525.7 611.7,544.5 617.4,543.5 623.0,555.7 628.7,549.2 634.3,544.5 640.0,528.3 645.6,520.0 651.2,513.4 656.9,512.1 662.5,499.6 668.2,480.8 673.8,466.2 679.5,464.4 685.1,462.3 690.7,464.4 696.4,463.6 702.0,462.5 707.7,461.2 713.3,460.4 719.0,463.8 724.6,462.0 730.2,472.6 735.9,498.3 741.5,541.4 747.2,579.2 752.8,591.8 758.5,592.3 764.1,593.6 769.7,580.0 775.4,568.8 781.0,555.7 786.7,540.1 792.3,520.0 798.0,507.4 803.6,521.0 809.2,535.4 814.9,506.1 820.5,487.9 826.2,477.4 831.8,483.9 837.5,476.6 843.1,472.2 848.7,457.8 854.4,456.0 860.0,457.0 865.7,458.6 871.3,462.3 877.0,459.9 882.6,470.4 888.3,474.8 893.9,494.4 899.5,514.8 905.2,527.0 910.8,549.2 916.5,539.6 922.1,557.0 927.8,539.6 933.4,561.0 939.0,571.4 944.7,587.1 950.3,580.6 956.0,578.5 961.6,585.8" fill="none" stroke="#111" stroke-width="0.65" stroke-linejoin="round"/>
<rect x="2.0" y="610" width="0.9" height="2.6" fill="#000"/>
<text class="tx" x="2.2" y="619">25 Aug 2020</text>
<rect x="47.2" y="610" width="0.9" height="2.6" fill="#000"/>
<text class="tx" x="47.3" y="619">26 Aug 12:00</text>
<rect x="92.3" y="610" width="0.9" height="2.6" fill="#000"/>
<text class="tx" x="92.5" y="619">26 Aug 20:00</text>
<rect x="137.4" y="610" width="0.9" height="2.6" fill="#000"/>
<text class="tx" x="137.6" y="619">27 Aug 14:00</text>
<rect x="182.6" y="610" width="0.9" height="2.6" fill="#000"/>
<text class="tx" x="182.7" y="619">28 Aug 08:00</text>
<rect x="227.7" y="610" width="0.9" height="2.6" fill="#000"/>
<text class="tx" x="227.8" y="619">28 Aug 16:00</text>
<rect x="272.8" y="610" width="0.9" height="2.6" fill="#000"/>
<text class="tx" x="273.0" y="619">31 Aug 10:00</text>
<rect x="318.0" y="610" width="0.9" height="2.6" fill="#000"/>
<text class="tx" x="318.1" y="619">31 Aug 18:00</text>
<rect x="363.1" y="610" width="0.9" height="2.6" fill="#000"/>
<text class="tx" x="363.2" y="619">1 Sep 12:00</text>
<rect x="408.2" y="610" width="0.9" height="2.6" fill="#000"/>
<text class="tx" x="408.4" y="619">1 Sep 20:00</text>
<rect x="453.4" y="610" width="0.9" height="2.6" fill="#000"/>
<text class="tx" x="453.5" y="619">2 Sep 14:00</text>
<rect x="498.5" y="610" width="0.9" height="2.6" fill="#000"/>
<text class="tx" x="498.6" y="619">3 Sep 08:00</text>
<rect x="543.6" y="610" width="0.9" height="2.6" fill="#000"/>
<text class="tx" x="543.8" y="619">3 Sep 16:00</text>
<rect x="588.7" y="610" width="0.9" height="2.6" fill="#000"/>
<text class="tx" x="588.9" y="619">4 Sep 10:00</text>
<rect x="633.9" y="610" width="0.9" height="2.6" fill="#000"/>
<text class="tx" x="634.0" y="619">4 Sep 18:00</text>
<rect x="679.0" y="610" width="0.9" height="2.6" fill="#000"/>
<text class="tx" x="679.2" y="619">7 Sep 12:00</text>
<rect x="724.1" y="610" width="0.9" height="2.6" fill="#000"/>
<text class="tx" x="724.3" y="619">7 Sep 20:00</text>
<rect x="769.3" y="610" width="0.9" height="2.6" fill="#000"/>
<text class="tx" x="769.4" y="619">8 Sep 14:00</text>
<rect x="814.4" y="610" width="0.9" height="2.6" fill="#000"/>
<text class="tx" x="814.5" y="619">9 Sep 08:00</text>
<rect x="859.5" y="610" width="0.9" height="2.6" fill="#000"/>
<text class="tx" x="859.7" y="619">9 Sep 16:00</text>
<rect x="904.6" y="610" width="0.9" height="2.6" fill="#000"/>
<text class="tx" x="904.8" y="619">10 Sep 10:00</text>
<rect x="949.8" y="610" width="0.9" height="2.6" fill="#000"/>
<text class="tx" x="949.9" y="619">10 Sep 18:00</text>
<g id="icons">
<rect x="5.2" y="4.2" width="10.2" height="9.2" rx="0.8" fill="#fff" stroke="#a0a0a0" stroke-width="0.7"/>
<rect x="5.2" y="4.1" width="10.2" height="1.7" fill="#6a6aff"/>
<rect x="6.3" y="7" width="3.6" height="2.2" fill="#ff7a7a"/><rect x="6.3" y="9.9" width="3.6" height="2.2" fill="#ff7a7a"/>
<rect x="11" y="7" width="3.2" height="2.2" fill="#6a6aff"/><rect x="11" y="9.9" width="3.2" height="2.2" fill="#6a6aff"/>
<path d="M17.2 5.2h2.2v3h2.4v4.6h-4.6z" fill="#0000ff"/>
<rect x="21.2" y="5.3" width="2.4" height="1" fill="#808080"/>
<path d="M25.4 5.2h2.2v7.6h-4.6v-4h2.4z" fill="#d01828"/>
</g>
<text class="hd" x="31.6" y="11.3" style="white-space:pre;word-spacing:0.25px;font-size:6.46px">GER30-bib, H1:  Germany 30  13143.70 13145.40 13092.90 13102.60  0</text>
<text class="hd" x="4.8" y="459">Stoch(9,3,3) 14.57 17.47</text>
<text class="ttl" x="956.2" y="440.8">德指1小时周期图</text>
</svg></body></html>
